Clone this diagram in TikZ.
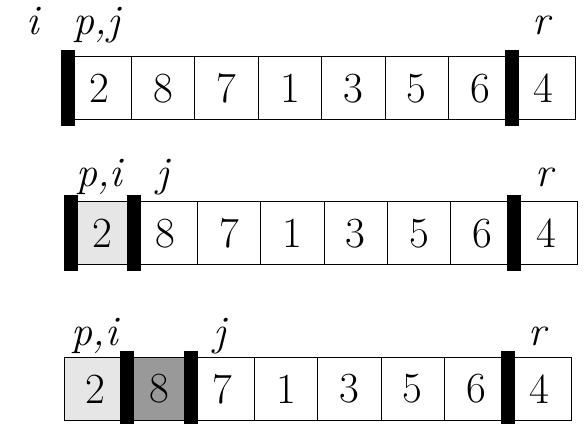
\documentclass[tikz,border=0pt]{standalone}
\definecolor{lightfill}{HTML}{E6E6E6}
\definecolor{darkfill}{HTML}{999999}
\begin{document}
\begin{tikzpicture}[x=1pt,y=1pt,
  cell/.style={draw=black, line width=1pt, minimum width=63.4pt, minimum height=63pt, inner sep=0pt, outer sep=0pt, font=\fontsize{43}{43}\selectfont},
  barmark/.style={fill=black, draw=none, minimum width=14pt, minimum height=76pt, inner sep=0pt},
  lab/.style={anchor=base, inner sep=0pt, font=\fontsize{42}{42}\selectfont\itshape}]
\useasboundingbox (0,0) rectangle (588,423);
% row 1
\foreach \v [count=\k] in {2,8,7,1,3,5,6,4}
  \node[cell] (r1c\k) at ({68+63.4*(\k-0.5)},334.5) {\v};
% row 2
\foreach \v [count=\k] in {2,8,7,1,3,5,6,4}
  \node[cell] (r2c\k) at ({70.5+63.4*(\k-0.5)},189.5) {\v};
% row 3
\foreach \v [count=\k] in {2,8,7,1,3,5,6,4}
  \node[cell] (r3c\k) at ({64+63.4*(\k-0.5)},34) {\v};
% shading
\node[cell, fill=lightfill] at (r2c1) {2};
\node[cell, fill=lightfill] at (r3c1) {2};
\node[cell, fill=darkfill] at (r3c2) {8};
% bars
\node[barmark] (b11) at (r1c1.west) {};
\node[barmark] (b18) at (r1c8.west) {};
\node[barmark] (b21) at (r2c1.west) {};
\node[barmark] (b22) at (r2c2.west) {};
\node[barmark] (b28) at (r2c8.west) {};
\node[barmark] (b32) at (r3c2.west) {};
\node[barmark] (b33) at (r3c3.west) {};
\node[barmark] (b38) at (r3c8.west) {};
% labels
\node[lab] (li1) at (33,388) {i};
\node[lab] (lpj1) at ([xshift=-3pt]r1c1.center |- 0,388) {p,j};
\node[lab] (lr1) at ([xshift=-2pt]r1c8.center |- 0,388) {r};
\node[lab] (lpi2) at ([xshift=-3pt]r2c1.center |- 0,236) {p,i};
\node[lab] (lj2) at ([xshift=-3pt]r2c2.center |- 0,236) {j};
\node[lab] (lr2) at ([xshift=-2pt]r2c8.center |- 0,236) {r};
\node[lab] (lpi3) at ([xshift=-1pt]r3c1.center |- 0,78) {p,i};
\node[lab] (lj3) at ([xshift=-3pt]r3c3.center |- 0,78) {j};
\node[lab] (lr3) at ([xshift=-2pt]r3c8.center |- 0,78) {r};
\end{tikzpicture}
\end{document}
